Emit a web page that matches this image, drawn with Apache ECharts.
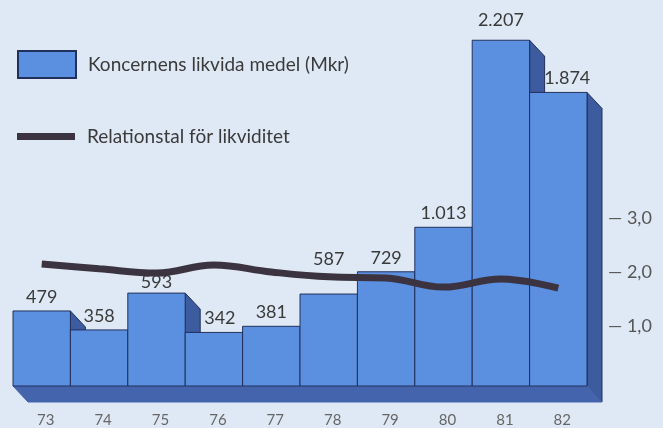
<!DOCTYPE html>
<html>
<head>
<meta charset="utf-8">
<script src="https://cdn.jsdelivr.net/npm/echarts@6/dist/echarts.min.js"></script>
<style>
  html, body { margin: 0; padding: 0; background: #dfe9f5; }
  #main { width: 663px; height: 428px; }
</style>
</head>
<body>
<div id="main"></div>
<script>
  // år (kategorier)
  const years = ['73', '74', '75', '76', '77', '78', '79', '80', '81', '82']
  // Koncernens likvida medel (Mkr)
  const likvidaMedel = [479, 358, 593, 342, 381, 587, 729, 1013, 2207, 1874]
  // Relationstal för likviditet
  const relationstal = [2.15, 2.06, 1.98, 2.13, 2.0, 1.91, 1.89, 1.72, 1.87, 1.7]
  // högra axelns markerade värden
  const rightTicks = [1, 2, 3]

  const FRONT = '#5b8fdf'
  const SIDE = '#3d5b9f'
  const SLAB = '#4464ad'
  const EDGE = '#22305c'
  const DX = 15
  const DY = 16
  const FONT = 'Lato'

  // extra lyft för etiketter (linjen ligger i vägen för 587)
  const labelLift = { 2: -3, 5: 21, 8: 6 }
  const labelShift = { 3: 6, 9: 9 }

  function fmt(v) {
    return String(v).replace(/\B(?=(\d{3})+(?!\d))/g, '.')
  }

  function renderBack(params, api) {
    const i = api.value(0)
    const top = api.coord([i, api.value(1)])
    const base = api.coord([i, 0])
    const w = api.size([1, 0])[0]
    const x0 = top[0] - w / 2
    const x1 = top[0] + w / 2
    return {
      type: 'group',
      children: [
        {
          type: 'polygon',
          shape: { points: [[x1, top[1]], [x1 + DX, top[1] + DY], [x1 + DX, base[1] + DY], [x1, base[1]]] },
          style: { fill: SIDE, stroke: EDGE, lineWidth: 1 }
        },
        {
          type: 'polygon',
          shape: { points: [[x0, base[1]], [x1, base[1]], [x1 + DX, base[1] + DY], [x0 + DX, base[1] + DY]] },
          style: { fill: SLAB, stroke: SLAB, lineWidth: 1 }
        }
      ]
    }
  }

  function renderFront(params, api) {
    const i = api.value(0)
    const v = api.value(1)
    const top = api.coord([i, v])
    const base = api.coord([i, 0])
    const w = api.size([1, 0])[0]
    const x0 = top[0] - w / 2
    return {
      type: 'group',
      children: [
        {
          type: 'rect',
          shape: { x: x0, y: top[1], width: w, height: base[1] - top[1] },
          style: { fill: FRONT, stroke: EDGE, lineWidth: 1 }
        },
        {
          type: 'text',
          x: top[0] + (labelShift[i] || 0),
          y: top[1] - 14 - (labelLift[i] || 0),
          style: {
            text: fmt(v),
            fill: '#3a3a3a',
            font: '18px ' + FONT,
            align: 'center',
            verticalAlign: 'middle'
          }
        }
      ]
    }
  }

  const chart = echarts.init(document.getElementById('main'))
  const barData = likvidaMedel.map((v, i) => [i, v])

  chart.setOption({
    backgroundColor: '#dfe9f5',
    animation: false,
    textStyle: { fontFamily: FONT },
    legend: [
      {
        left: 12,
        top: 45,
        selectedMode: false,
        itemWidth: 58,
        itemHeight: 27,
        icon: 'rect',
        data: ['Koncernens likvida medel (Mkr)'],
        textStyle: { fontSize: 19, color: '#3a3a3a', fontFamily: FONT, padding: [0, 0, 0, 7] }
      },
      {
        left: 12,
        top: 122,
        selectedMode: false,
        itemWidth: 58,
        itemHeight: 7,
        icon: 'rect',
        data: ['Relationstal för likviditet'],
        textStyle: { fontSize: 19, color: '#3a3a3a', fontFamily: FONT, padding: [12, 0, 0, 7] }
      }
    ],
    grid: [
      { left: 13, right: 76, top: 10, bottom: 41 },
      { left: 13, right: 76, top: 2, bottom: 48 }
    ],
    xAxis: [
      {
        type: 'category',
        gridIndex: 0,
        data: years,
        axisLine: { show: false },
        axisTick: { show: false },
        axisLabel: { margin: 27, color: '#666', fontSize: 15, fontFamily: FONT, padding: [0, 0, 0, 8] }
      },
      {
        type: 'category',
        gridIndex: 1,
        data: years,
        show: false
      }
    ],
    yAxis: [
      {
        type: 'value',
        gridIndex: 0,
        min: 0,
        max: 2400,
        show: false
      },
      {
        type: 'value',
        gridIndex: 1,
        position: 'right',
        min: 0,
        max: 7,
        interval: 1,
        splitLine: { show: false },
        axisLine: { show: false },
        axisTick: { show: false },
        axisLabel: {
          margin: 21,
          color: '#555',
          fontSize: 18,
          fontFamily: FONT,
          formatter: (v) => (rightTicks.indexOf(v) >= 0 ? '— ' + v.toFixed(1).replace('.', ',') : '')
        }
      }
    ],
    series: [
      {
        type: 'custom',
        name: 'sidor',
        xAxisIndex: 0,
        yAxisIndex: 0,
        z: 1,
        renderItem: renderBack,
        data: barData
      },
      {
        type: 'custom',
        name: 'Koncernens likvida medel (Mkr)',
        xAxisIndex: 0,
        yAxisIndex: 0,
        z: 2,
        itemStyle: { color: FRONT, borderColor: EDGE, borderWidth: 1 },
        renderItem: renderFront,
        data: barData
      },
      {
        type: 'line',
        name: 'Relationstal för likviditet',
        xAxisIndex: 1,
        yAxisIndex: 1,
        z: 3,
        smooth: 0.4,
        symbol: 'none',
        color: '#3b3440',
        itemStyle: { color: '#3b3440' },
        lineStyle: { width: 7, color: '#3b3440' },
        data: relationstal
      }
    ]
  })
</script>
</body>
</html>
